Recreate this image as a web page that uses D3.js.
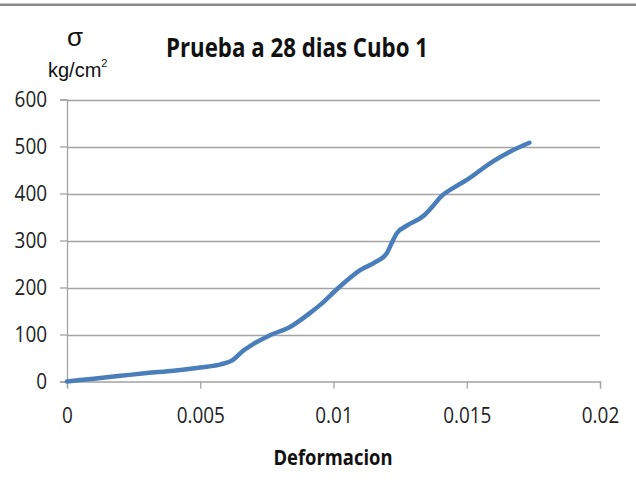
<!DOCTYPE html>
<html>
<head>
<meta charset="utf-8">
<script src="https://cdn.jsdelivr.net/npm/d3@7"></script>
<style>
  html, body { margin: 0; padding: 0; background: #fff; }
  svg { display: block; }
</style>
</head>
<body>
<svg id="chart" width="636" height="504"></svg>
<script>
// ---- data ----
const deformacion = [0, 0.001, 0.002, 0.003, 0.004, 0.005, 0.0058, 0.0062, 0.0066, 0.007, 0.0076, 0.0084, 0.0091, 0.0095, 0.0102, 0.011, 0.0116, 0.012, 0.01218, 0.01237, 0.0128, 0.01337, 0.01374, 0.01406, 0.0145, 0.015, 0.016, 0.01662, 0.01735];
const esfuerzo    = [0, 6, 12, 18, 23, 30, 37, 45, 65, 80, 98, 117, 145, 163, 200, 237, 255, 273, 294, 315, 333, 352, 374, 395, 412, 429, 469, 489, 508];
const xTicks = [0, 0.005, 0.01, 0.015, 0.02];
const xTickLabels = ["0", "0.005", "0.01", "0.015", "0.02"];
const yTicks = [0, 100, 200, 300, 400, 500, 600];
const titleText = "Prueba a 28 dias Cubo 1";
const xTitle = "Deformacion";

const svg = d3.select("#chart");
const W = 636, H = 504;

const x = d3.scaleLinear().domain([0, 0.02]).range([67, 600]);
const y = d3.scaleLinear().domain([0, 600]).range([381.5, 99.5]);

// top border line
svg.append("rect").attr("x", 0).attr("y", 3.5).attr("width", W).attr("height", 2.5).attr("fill", "#8a8a8a");

const gridColor = "#a3a3a3";
const labelFont = "'Open Sans', 'Liberation Sans', sans-serif";

function condense(sel, factor) {
  sel.each(function () {
    const len = this.getComputedTextLength();
    d3.select(this).attr("textLength", len * factor).attr("lengthAdjust", "spacingAndGlyphs");
  });
}

// gridlines
svg.append("g").selectAll("line").data(yTicks.filter(d => d > 0)).join("line")
  .attr("x1", x(0)).attr("x2", x(0.02))
  .attr("y1", d => Math.round(y(d)) + 0.5).attr("y2", d => Math.round(y(d)) + 0.5)
  .attr("stroke", gridColor).attr("stroke-width", 1.3);

// y axis
const yAxis = d3.axisLeft(y).tickValues(yTicks).tickSize(7).tickPadding(13).tickFormat(d3.format("d"));
const gy = svg.append("g").attr("transform", `translate(${x(0)},0)`).call(yAxis);
gy.selectAll("path.domain").attr("stroke", gridColor).attr("stroke-width", 1.3);
gy.selectAll(".tick line").attr("stroke", gridColor).attr("stroke-width", 1.3);
gy.selectAll(".tick text").attr("font-family", labelFont).attr("font-size", 21).attr("fill", "#222")
  .call(condense, 0.9);

// x axis
const xAxis = d3.axisBottom(x).tickValues(xTicks).tickSize(7).tickPadding(20)
  .tickFormat((d, i) => xTickLabels[i]);
const gx = svg.append("g").attr("transform", `translate(0,${y(0)})`).call(xAxis);
gx.selectAll("path.domain").attr("stroke", gridColor).attr("stroke-width", 1.3);
gx.selectAll(".tick line").attr("stroke", gridColor).attr("stroke-width", 1.3);
gx.selectAll(".tick text").attr("font-family", labelFont).attr("font-size", 21).attr("fill", "#222")
  .call(condense, 0.9);

// line
const pts = deformacion.map((d, i) => [d, esfuerzo[i]]);
const line = d3.line().x(d => x(d[0])).y(d => y(d[1])).curve(d3.curveMonotoneX);
svg.append("path").datum(pts).attr("d", line)
  .attr("fill", "none").attr("stroke", "#4a7ebb").attr("stroke-width", 4.5)
  .attr("stroke-linecap", "round").attr("stroke-linejoin", "round");

// title
svg.append("text").attr("x", 297).attr("y", 57)
  .attr("text-anchor", "middle").attr("font-family", labelFont).attr("font-weight", "bold")
  .attr("font-size", 27).attr("fill", "#111")
  .attr("textLength", 262).attr("lengthAdjust", "spacingAndGlyphs")
  .text(titleText);

// x title
svg.append("text").attr("x", 333).attr("y", 465)
  .attr("text-anchor", "middle").attr("font-family", labelFont).attr("font-weight", "bold")
  .attr("font-size", 21).attr("fill", "#111")
  .attr("textLength", 119).attr("lengthAdjust", "spacingAndGlyphs")
  .text(xTitle);

// y title: sigma and units
svg.append("text").attr("x", 75).attr("y", 46)
  .attr("text-anchor", "middle").attr("font-family", "'Liberation Sans', Arial, sans-serif")
  .attr("font-size", 26).attr("fill", "#111").text("σ");
const unit = svg.append("text").attr("x", 48).attr("y", 77)
  .attr("font-family", "'Liberation Sans', Arial, sans-serif")
  .attr("font-size", 20).attr("fill", "#111");
unit.append("tspan").text("kg/cm");
unit.append("tspan").attr("font-size", 11).attr("dy", -10).text("2");
</script>
</body>
</html>
